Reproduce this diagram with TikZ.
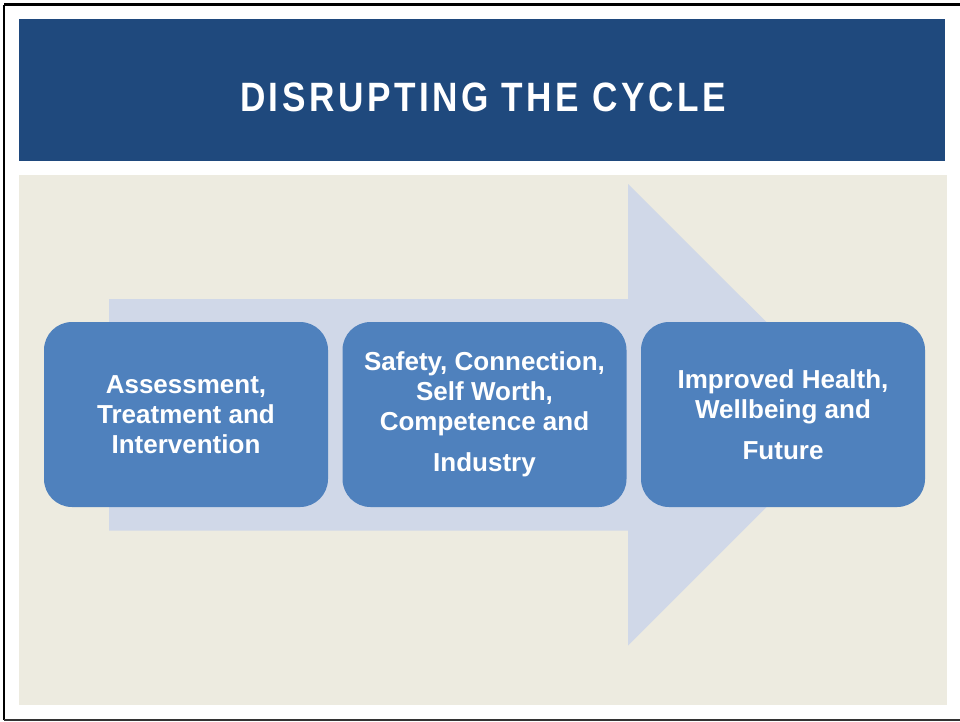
\documentclass[tikz,border=0pt]{standalone}
\usepackage{fontspec}
\setmainfont{Liberation Sans}
\usepackage{graphicx}
\definecolor{titleblue}{HTML}{1F497D}
\definecolor{panelbeige}{HTML}{EDEBE0}
\definecolor{arrowfill}{HTML}{D0D8E8}
\definecolor{boxblue}{HTML}{4F81BD}
\tikzset{
  stagebox/.style={fill=boxblue, rounded corners=28pt, minimum width=284pt, minimum height=185pt,
    inner sep=0pt, align=center, text=white,
    font=\bfseries\fontsize{26}{30}\selectfont},
}
\begin{document}
\begin{tikzpicture}[x=1pt,y=-1pt]
\useasboundingbox (0,0) rectangle (960,721);
\fill[white] (0,0) rectangle (960,721);
% frame
\draw[black, line width=2.2pt] (4,4.5) -- (962,4.5);
\draw[black, line width=2pt] (4,4.5) -- (4,720);
\draw[black!80, line width=2pt] (4,720) -- (962,720);
% title bar
\fill[titleblue] (19,19) rectangle (945,161);
\node[text=white, inner sep=0pt] (title) at (483,97.5)
  {\resizebox{486pt}{\height}{\bfseries\fontsize{41}{41}\selectfont\addfontfeature{LetterSpace=10}DISRUPTING THE CYCLE}};
% panel
\fill[panelbeige] (19,175) rectangle (947,705);
% big arrow
\fill[arrowfill] (109,299) -- (628,299) -- (628,184) -- (859,414.5) -- (628,645.5)
  -- (628,530.5) -- (109,530.5) -- cycle;
% boxes
\node[stagebox] (b1) at (186,414.5) {Assessment,\\Treatment and\\Intervention};
\node[stagebox] (b2) at (484.5,414.5) {Safety, Connection,\\Self Worth,\\Competence and\\[11pt]Industry};
\node[stagebox] (b3) at (783,414.5) {Improved Health,\\Wellbeing and\\[11pt]Future};
\end{tikzpicture}
\end{document}
